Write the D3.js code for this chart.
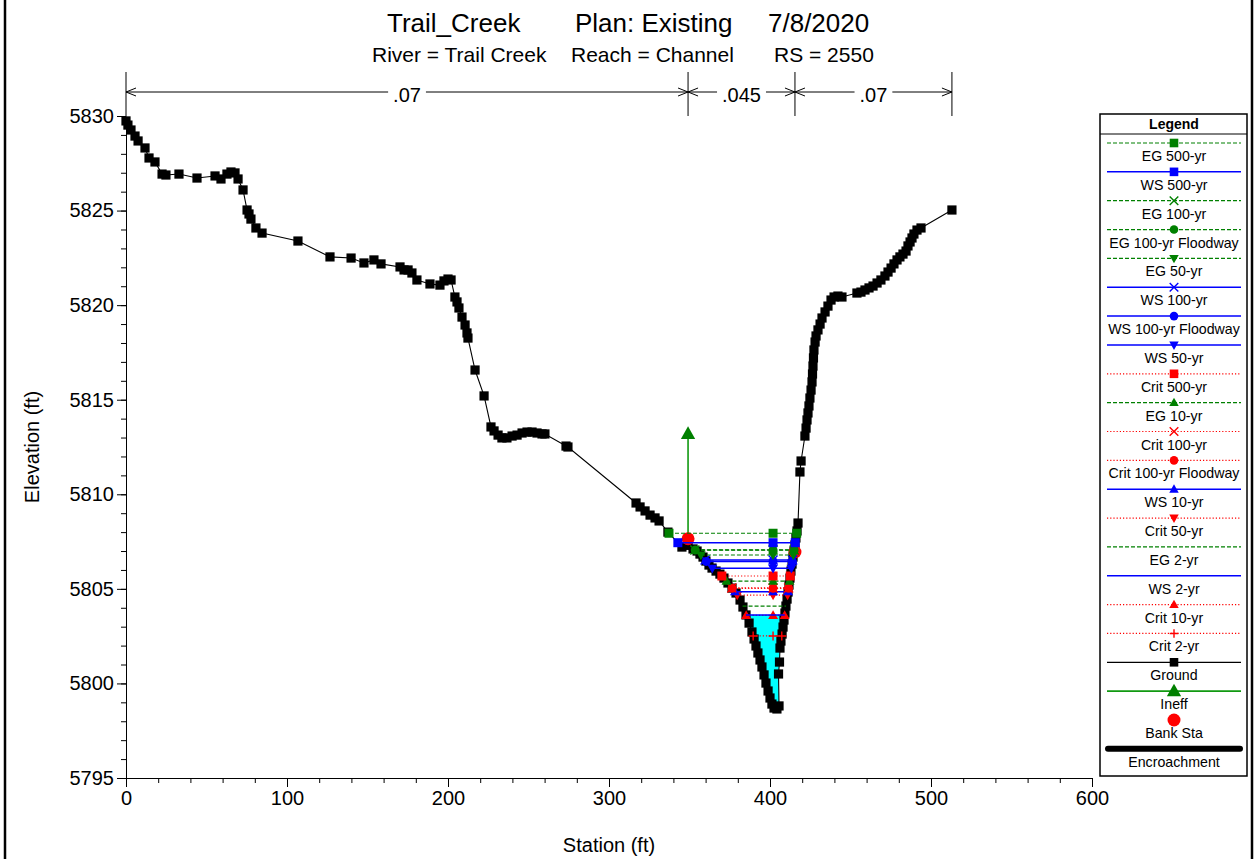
<!DOCTYPE html>
<html>
<head>
<meta charset="utf-8">
<script src="https://cdn.jsdelivr.net/npm/d3@7"></script>
<style>
  body { margin: 0; background: #fff; }
  svg text { font-family: "Liberation Sans", Arial, sans-serif; fill: #000; }
</style>
</head>
<body>
<svg id="chart" width="1255" height="859"></svg>
<script>
// ---- Cross-section data (station ft, elevation ft) ----
const groundPoints = [
  [0.0,5829.74],[1.2,5829.52],[3.1,5829.26],[5.6,5828.94],[7.5,5828.68],[11.8,5828.31],[14.3,5827.78],
  [18.0,5827.57],[22.4,5826.93],[24.8,5826.88],[32.9,5826.93],[44.1,5826.72],[55.3,5826.83],[59.0,5826.67],
  [62.7,5826.93],[65.2,5827.04],[67.7,5826.99],[69.6,5826.67],[72.7,5826.09],[75.2,5825.03],[76.4,5824.82],
  [77.6,5824.55],[80.7,5824.08],[84.5,5823.81],[106.8,5823.39],[126.7,5822.55],[139.8,5822.49],[147.8,5822.23],
  [154.0,5822.39],[158.4,5822.18],[170.2,5822.02],[172.7,5821.86],[175.2,5821.86],[177.6,5821.70],[180.7,5821.33],
  [188.8,5821.12],[195.0,5821.06],[197.5,5821.28],[200.0,5821.38],[201.9,5821.33],[204.3,5820.43],[205.6,5820.17],
  [206.8,5819.85],[208.7,5819.37],[210.6,5818.95],[211.8,5818.53],[212.4,5818.26],[216.8,5816.57],[222.4,5815.20],
  [226.7,5813.56],[228.6,5813.35],[231.1,5813.13],[233.5,5812.98],[236.6,5812.98],[239.8,5813.08],[242.9,5813.13],
  [246.0,5813.24],[249.1,5813.29],[252.2,5813.29],[255.3,5813.24],[258.4,5813.19],[260.2,5813.19],[273.3,5812.55],
  [274.5,5812.50],[316.8,5809.54],[319.3,5809.33],[322.4,5809.12],[325.5,5808.90],[328.6,5808.75],[331.1,5808.59],
  [336.6,5808.00],[345.3,5807.21],[349.1,5807.30],[352.2,5807.11],[354.7,5807.00],[356.5,5806.84],[358.4,5806.68],
  [360.2,5806.47],[362.1,5806.26],[364.0,5806.10],[366.5,5805.94],[368.9,5805.78],[371.4,5805.57],[373.9,5805.31],
  [376.4,5805.04],[378.9,5804.78],[381.4,5804.41],[383.2,5804.04],[385.1,5803.62],[387.0,5803.19],[388.8,5802.72],
  [390.1,5802.35],[391.3,5801.98],[392.5,5801.61],[393.8,5801.24],[395.0,5800.87],[396.3,5800.45],[397.5,5800.02],
  [398.8,5799.60],[400.0,5799.23],[401.2,5798.91],[402.5,5798.70],[404.3,5798.65],[405.6,5798.81],[405.3,5800.50],
  [405.9,5801.13],[406.2,5801.87],[406.8,5802.24],[407.5,5802.61],[408.1,5802.98],[408.7,5803.35],[409.3,5803.72],
  [409.9,5804.09],[410.6,5804.46],[411.2,5804.83],[411.8,5805.20],[412.4,5805.57],[413.0,5805.94],[413.7,5806.31],
  [414.3,5806.68],[414.9,5807.00],[415.5,5807.32],[416.1,5807.69],[416.8,5808.06],[417.4,5808.48],[418.6,5811.18],
  [419.3,5811.76],[421.7,5813.08],[422.4,5813.50],[423.0,5813.93],[423.6,5814.30],[424.2,5814.67],[424.8,5815.09],
  [425.5,5815.51],[426.1,5815.94],[426.4,5816.36],[426.7,5816.78],[427.0,5817.21],[427.3,5817.63],[428.0,5818.05],
  [428.6,5818.37],[429.8,5818.69],[431.1,5819.00],[432.3,5819.32],[434.2,5819.64],[436.0,5819.95],[437.9,5820.27],
  [439.8,5820.43],[442.2,5820.48],[444.7,5820.43],[454.0,5820.64],[456.5,5820.69],[459.0,5820.80],[461.5,5820.91],
  [464.0,5821.01],[466.5,5821.17],[468.9,5821.33],[471.4,5821.54],[473.3,5821.75],[475.2,5821.96],[477.0,5822.18],
  [478.9,5822.39],[480.7,5822.55],[482.6,5822.70],[484.5,5822.86],[485.7,5823.13],[487.0,5823.34],[488.2,5823.55],
  [489.4,5823.76],[491.3,5823.97],[493.8,5824.08],[513.0,5825.03]
];

// ---- Water surface profiles ----
const profileNames = ['EG 500-yr','WS 500-yr','EG 100-yr','EG 100-yr Floodway','EG 50-yr','WS 100-yr',
  'WS 100-yr Floodway','WS 50-yr','Crit 500-yr','EG 10-yr','Crit 100-yr','Crit 100-yr Floodway','WS 10-yr',
  'Crit 50-yr','EG 2-yr','WS 2-yr','Crit 10-yr','Crit 2-yr'];
const profileElevations = [5807.94,5807.44,5807.06,5807.05,5806.79,5806.53,5806.45,5806.09,5805.68,5805.41,
  5805.05,5805.03,5804.85,5804.67,5804.09,5803.62,5803.60,5802.51];
const profileKinds = ['EG','WS','EG','EG','EG','WS','WS','WS','Crit','EG','Crit','Crit','WS','Crit','EG','WS','Crit','Crit'];
const profileSymbols = ['square','square','x','circle','triDown','x','circle','triDown','square','triUp','x','circle',
  'triUp','triDown','none','none','triUp','plus'];
const filledProfile = 'WS 2-yr';
const profileMidStation = 401.9;

// ---- Bank stations, ineffective flow, Manning's n ----
const bankStations = [349.1, 415.5];
const bankElevations = [5807.65, 5806.95];
const ineffStation = 349.1;
const ineffElevation = 5813.2;
const manningBreaks = [0, 349.1, 415.5, 513.0];
const manningValues = ['.07', '.045', '.07'];

// ---- Axes ----
const xMajorTicks = [0, 100, 200, 300, 400, 500, 600];
const xMinorTicks = d3.range(0, 601, 20);
const yMajorTicks = [5795, 5800, 5805, 5810, 5815, 5820, 5825, 5830];
const yMinorTicks = d3.range(5795, 5831, 1);
const titleParts = ['Trail_Creek', 'Plan: Existing', '7/8/2020'];
const subtitleParts = ['River = Trail Creek', 'Reach = Channel', 'RS = 2550'];

const kindStyle = {
  EG:   { color: '#008000', dash: '4,2', width: 1.2 },
  WS:   { color: '#0000ff', dash: null,  width: 1.5 },
  Crit: { color: '#ff0000', dash: '1.2,2', width: 1.2 }
};

const svg = d3.select('#chart');
const x = d3.scaleLinear().domain([0, 600]).range([126, 1092]);
const y = d3.scaleLinear().domain([5795, 5830]).range([778, 116]);

function symbolPath(kind, h) {
  switch (kind) {
    case 'square': return `M${-h},${-h}H${h}V${h}H${-h}Z`;
    case 'circle': return `M${h},0A${h},${h} 0 1,1 ${-h},0A${h},${h} 0 1,1 ${h},0Z`;
    case 'triUp': return `M0,${-h * 1.15}L${h * 1.1},${h * 0.8}L${-h * 1.1},${h * 0.8}Z`;
    case 'triDown': return `M0,${h * 1.15}L${h * 1.1},${-h * 0.8}L${-h * 1.1},${-h * 0.8}Z`;
    case 'x': return `M${-h},${-h}L${h},${h}M${h},${-h}L${-h},${h}`;
    case 'plus': return `M${-h},0H${h}M0,${-h}V${h}`;
  }
  return '';
}
function drawSymbol(g, kind, cx, cy, h, color) {
  if (kind === 'none') return;
  const stroked = kind === 'x' || kind === 'plus';
  g.append('path')
    .attr('d', symbolPath(kind, h))
    .attr('transform', `translate(${cx},${cy})`)
    .attr('fill', stroked ? 'none' : color)
    .attr('stroke', stroked ? color : 'none')
    .attr('stroke-width', stroked ? 1.4 : 0);
}

// Where a level meets the ground on each side of the thalweg
function waterExtent(elev) {
  const n = groundPoints.length;
  const iMin = d3.minIndex(groundPoints, d => d[1]);
  let l = iMin; while (l > 0 && groundPoints[l - 1][1] < elev) l--;
  let r = iMin; while (r < n - 1 && groundPoints[r + 1][1] < elev) r++;
  const interp = (a, b) => a[0] + (elev - a[1]) / (b[1] - a[1]) * (b[0] - a[0]);
  const left = l > 0 ? interp(groundPoints[l], groundPoints[l - 1]) : groundPoints[0][0];
  const right = r < n - 1 ? interp(groundPoints[r], groundPoints[r + 1]) : groundPoints[n - 1][0];
  return { l, r, left, right };
}

// ---- Frame ----
svg.append('line').attr('x1', 5).attr('x2', 5).attr('y1', 0).attr('y2', 859).attr('stroke', '#000').attr('stroke-width', 2.5);
svg.append('line').attr('x1', 1252).attr('x2', 1252).attr('y1', 0).attr('y2', 859).attr('stroke', '#000').attr('stroke-width', 2.5);

// ---- Titles ----
const titleX = [387, 575, 768];
titleParts.forEach((t, i) => svg.append('text').attr('x', titleX[i]).attr('y', 32).attr('font-size', 26).text(t));
const subX = [372, 571, 774];
subtitleParts.forEach((t, i) => svg.append('text').attr('x', subX[i]).attr('y', 62).attr('font-size', 21).text(t));

// ---- Axes ----
const gx = svg.append('g').attr('transform', 'translate(0,778)');
gx.call(d3.axisBottom(x).tickValues(xMinorTicks).tickSize(5).tickSizeOuter(0).tickFormat(''));
const gxM = svg.append('g').attr('transform', 'translate(0,778)');
gxM.call(d3.axisBottom(x).tickValues(xMajorTicks).tickSize(9).tickSizeOuter(0).tickPadding(4).tickFormat(d3.format('d')));
gxM.select('.domain').remove();
const gy = svg.append('g').attr('transform', 'translate(126,0)');
gy.call(d3.axisLeft(y).tickValues(yMinorTicks).tickSize(5).tickSizeOuter(0).tickFormat(''));
const gyM = svg.append('g').attr('transform', 'translate(126,0)');
gyM.call(d3.axisLeft(y).tickValues(yMajorTicks).tickSize(9).tickSizeOuter(0).tickPadding(3).tickFormat(d3.format('d')));
gyM.select('.domain').remove();
svg.selectAll('.tick text').attr('font-size', 20).attr('font-family', '"Liberation Sans", Arial, sans-serif');
svg.selectAll('.domain, .tick line').attr('stroke', '#000');

svg.append('text').attr('x', 609).attr('y', 852).attr('text-anchor', 'middle').attr('font-size', 20).text('Station (ft)');
svg.append('text').attr('transform', 'translate(39,447) rotate(-90)').attr('text-anchor', 'middle').attr('font-size', 20).text('Elevation (ft)');

// ---- Manning's n bar ----
const nY = 92;
const mg = svg.append('g');
manningBreaks.forEach(s => {
  mg.append('line').attr('x1', x(s)).attr('x2', x(s)).attr('y1', 72).attr('y2', 116).attr('stroke', '#000').attr('stroke-width', 1);
});
manningValues.forEach((v, i) => {
  const x0 = x(manningBreaks[i]), x1 = x(manningBreaks[i + 1]);
  mg.append('line').attr('x1', x0).attr('x2', x1).attr('y1', nY).attr('y2', nY).attr('stroke', '#000');
  const arrow = (tipX, dir) => mg.append('path')
    .attr('d', `M${tipX + dir * 10},${nY - 4}L${tipX},${nY}L${tipX + dir * 10},${nY + 4}`)
    .attr('fill', 'none').attr('stroke', '#000').attr('stroke-width', 1);
  arrow(x0, 1); arrow(x1, -1);
  const t = mg.append('text').attr('x', (x0 + x1) / 2).attr('y', nY + 10).attr('text-anchor', 'middle').attr('font-size', 20).text(v);
  const bb = t.node().getBBox();
  mg.insert('rect', () => t.node()).attr('x', bb.x - 5).attr('y', nY - 2).attr('width', bb.width + 10).attr('height', 4).attr('fill', '#fff');
});

// ---- Filled water area ----
const plot = svg.append('g');
const fillIdx = profileNames.indexOf(filledProfile);
{
  const elev = profileElevations[fillIdx];
  const ext = waterExtent(elev);
  const poly = [[ext.left, elev], ...groundPoints.slice(ext.l, ext.r + 1), [ext.right, elev]];
  plot.append('path')
    .attr('d', d3.line().x(d => x(d[0])).y(d => y(d[1]))(poly) + 'Z')
    .attr('fill', '#00ffff').attr('stroke', 'none');
}

// ---- Ground ----
plot.append('path')
  .attr('d', d3.line().x(d => x(d[0])).y(d => y(d[1]))(groundPoints))
  .attr('fill', 'none').attr('stroke', '#000').attr('stroke-width', 1.1);
plot.selectAll('rect.gpt').data(groundPoints).join('rect').attr('class', 'gpt')
  .attr('x', d => x(d[0]) - 4.6).attr('y', d => y(d[1]) - 4.6)
  .attr('width', 9.2).attr('height', 9.2).attr('fill', '#000');

// ---- Ineffective flow and bank stations ----
plot.append('line').attr('x1', x(ineffStation)).attr('x2', x(ineffStation))
  .attr('y1', y(bankElevations[0])).attr('y2', y(ineffElevation))
  .attr('stroke', '#119911').attr('stroke-width', 1.6);
drawSymbol(plot, 'triUp', x(ineffStation), y(ineffElevation), 6.5, '#008000');
bankStations.forEach((s, i) => drawSymbol(plot, 'circle', x(s), y(bankElevations[i]), 6.5, '#ff0000'));

// ---- Profile lines ----
for (let i = profileNames.length - 1; i >= 0; i--) {
  const elev = profileElevations[i];
  const st = kindStyle[profileKinds[i]];
  const ext = waterExtent(elev);
  plot.append('line')
    .attr('x1', x(ext.left)).attr('x2', x(ext.right)).attr('y1', y(elev)).attr('y2', y(elev))
    .attr('stroke', st.color).attr('stroke-width', st.width).attr('stroke-dasharray', st.dash);
  [ext.left, profileMidStation, ext.right].forEach(s =>
    drawSymbol(plot, profileSymbols[i], x(s), y(elev), 4.5, st.color));
}

// ---- Legend ----
const lg = svg.append('g');
lg.append('rect').attr('x', 1100).attr('y', 114).attr('width', 147).attr('height', 662)
  .attr('fill', '#fff').attr('stroke', '#000').attr('stroke-width', 1.5);
lg.append('text').attr('x', 1174).attr('y', 129).attr('text-anchor', 'middle')
  .attr('font-size', 14).attr('font-weight', 'bold').text('Legend');
lg.append('line').attr('x1', 1100).attr('x2', 1247).attr('y1', 134).attr('y2', 134).attr('stroke', '#000');

const legendItems = profileNames.map((n, i) => ({
  name: n, color: kindStyle[profileKinds[i]].color, dash: kindStyle[profileKinds[i]].dash,
  width: kindStyle[profileKinds[i]].width, symbol: profileSymbols[i], size: 4.3
}));
legendItems.push({ name: 'Ground', color: '#000', dash: null, width: 1.2, symbol: 'square', size: 4.3 });
legendItems.push({ name: 'Ineff', color: '#119911', symColor: '#008000', dash: null, width: 1.6, symbol: 'triUp', size: 6.5 });
legendItems.push({ name: 'Bank Sta', color: null, symColor: '#ff0000', symbol: 'circle', size: 6.5 });
legendItems.push({ name: 'Encroachment', color: '#000', dash: null, width: 6, symbol: 'none', round: true });

legendItems.forEach((it, i) => {
  const ly = 143 + i * 28.85;
  if (it.color) {
    lg.append('line').attr('x1', it.round ? 1108 : 1107).attr('x2', it.round ? 1240 : 1241)
      .attr('y1', ly).attr('y2', ly)
      .attr('stroke', it.color).attr('stroke-width', it.width)
      .attr('stroke-dasharray', it.dash).attr('stroke-linecap', it.round ? 'round' : 'butt');
  }
  drawSymbol(lg, it.symbol, 1174, ly, it.size, it.symColor || it.color);
  lg.append('text').attr('x', 1174).attr('y', ly + 18).attr('text-anchor', 'middle')
    .attr('font-size', 14.2).text(it.name);
});
</script>
</body>
</html>
